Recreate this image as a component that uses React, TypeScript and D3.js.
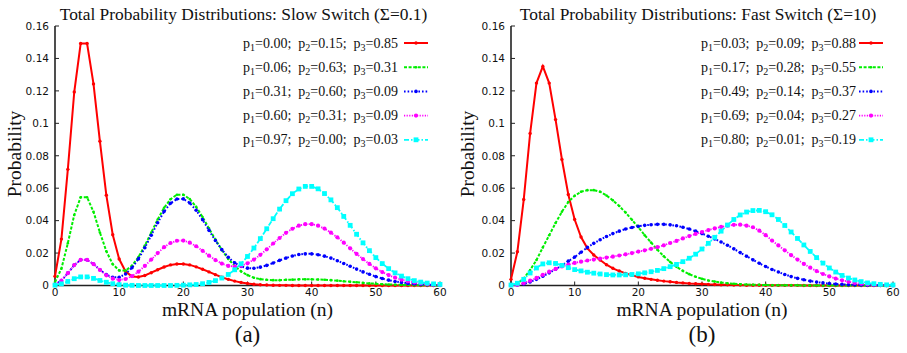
import React from "react";
import * as d3 from "d3";

const nValues: number[] = d3.range(0, 61);
const yTicks = [0, 0.02, 0.04, 0.06, 0.08, 0.1, 0.12, 0.14, 0.16];
const xTicks = [0, 10, 20, 30, 40, 50, 60];

const slowRed = [0.0057,0.0286,0.0716,0.1193,0.1492,0.1492,0.1243,0.0889,0.0557,0.0313,0.0163,0.0086,0.0056,0.0052,0.0062,0.0079,0.0097,0.0114,0.0127,0.0133,0.0133,0.0127,0.0115,0.0100,0.0084,0.0067,0.0051,0.0038,0.0027,0.0019,0.0013,0.0008,0.0005,0.0003,0.0002,0.0001,0.0001,0,0,0,0,0,0,0,0,0,0,0,0,0,0,0,0,0,0,0,0,0,0,0,0];
const slowGreen = [0.0021,0.0104,0.0261,0.0435,0.0544,0.0544,0.0454,0.0327,0.0211,0.0131,0.0093,0.0092,0.0122,0.0175,0.0246,0.0326,0.0407,0.0479,0.0532,0.0560,0.0560,0.0533,0.0485,0.0422,0.0352,0.0283,0.0219,0.0164,0.0120,0.0087,0.0064,0.0048,0.0039,0.0035,0.0033,0.0033,0.0035,0.0036,0.0038,0.0038,0.0038,0.0037,0.0035,0.0033,0.0030,0.0026,0.0023,0.0020,0.0016,0.0013,0.0011,0.0008,0.0006,0.0005,0.0004,0.0003,0.0002,0.0001,0.0001,0.0001,0.0000];
const slowBlue = [0.0006,0.0030,0.0076,0.0126,0.0158,0.0158,0.0133,0.0097,0.0067,0.0050,0.0051,0.0071,0.0109,0.0164,0.0233,0.0310,0.0387,0.0456,0.0507,0.0533,0.0534,0.0509,0.0464,0.0405,0.0340,0.0277,0.0221,0.0174,0.0140,0.0118,0.0107,0.0106,0.0113,0.0124,0.0139,0.0155,0.0169,0.0182,0.0191,0.0195,0.0195,0.0190,0.0181,0.0169,0.0153,0.0136,0.0119,0.0101,0.0084,0.0069,0.0055,0.0043,0.0033,0.0025,0.0019,0.0013,0.0010,0.0007,0.0005,0.0003,0.0002];
const slowMagenta = [0.0006,0.0030,0.0076,0.0126,0.0158,0.0158,0.0132,0.0096,0.0063,0.0042,0.0034,0.0040,0.0058,0.0085,0.0121,0.0160,0.0200,0.0236,0.0262,0.0276,0.0277,0.0264,0.0242,0.0214,0.0184,0.0157,0.0135,0.0121,0.0117,0.0122,0.0137,0.0160,0.0189,0.0223,0.0259,0.0293,0.0325,0.0350,0.0369,0.0378,0.0378,0.0369,0.0351,0.0326,0.0297,0.0264,0.0229,0.0195,0.0163,0.0133,0.0106,0.0083,0.0064,0.0048,0.0036,0.0026,0.0019,0.0013,0.0009,0.0006,0.0004];
const slowCyan = [0.0002,0.0010,0.0025,0.0042,0.0053,0.0053,0.0044,0.0031,0.0020,0.0011,0.0005,0.0002,0.0001,0,0,0,0,0,0,0.0001,0.0002,0.0004,0.0006,0.0011,0.0019,0.0030,0.0046,0.0068,0.0097,0.0134,0.0179,0.0231,0.0289,0.0350,0.0412,0.0471,0.0523,0.0566,0.0595,0.0611,0.0611,0.0596,0.0567,0.0528,0.0480,0.0426,0.0371,0.0316,0.0263,0.0215,0.0172,0.0135,0.0104,0.0078,0.0058,0.0042,0.0030,0.0021,0.0015,0.0010,0.0007];

const fastRed = [0.0038,0.0208,0.0530,0.0937,0.1248,0.1351,0.1248,0.1023,0.0777,0.0561,0.0407,0.0299,0.0229,0.0188,0.0157,0.0128,0.0106,0.0089,0.0075,0.0063,0.0053,0.0045,0.0038,0.0032,0.0027,0.0023,0.0019,0.0016,0.0013,0.0011,0.0009,0.0007,0.0006,0.0005,0.0004,0.0003,0.0003,0.0002,0.0002,0.0002,0.0002,0.0001,0.0001,0.0001,0.0001,0.0001,0,0,0,0,0,0,0,0,0,0,0,0,0,0,0];
const fastGreen = [0.0001,0.0012,0.0044,0.0095,0.0157,0.0235,0.0310,0.0385,0.0455,0.0515,0.0553,0.0578,0.0588,0.0588,0.0578,0.0555,0.0525,0.0490,0.0450,0.0405,0.0360,0.0310,0.0265,0.0220,0.0180,0.0145,0.0115,0.0090,0.0070,0.0054,0.0041,0.0031,0.0024,0.0018,0.0014,0.0011,0.0008,0.0006,0.0005,0.0004,0.0003,0.0002,0.0002,0.0001,0.0001,0.0001,0,0,0,0,0,0,0,0,0,0,0,0,0,0,0];
const fastBlue = [0,0.0003,0.0010,0.0022,0.0038,0.0057,0.0078,0.0100,0.0125,0.0150,0.0175,0.0205,0.0235,0.0260,0.0282,0.0302,0.0320,0.0335,0.0348,0.0358,0.0365,0.0371,0.0375,0.0377,0.0377,0.0374,0.0368,0.0359,0.0348,0.0335,0.0320,0.0304,0.0287,0.0268,0.0248,0.0226,0.0203,0.0180,0.0158,0.0137,0.0117,0.0099,0.0083,0.0068,0.0055,0.0044,0.0035,0.0027,0.0021,0.0016,0.0012,0.0009,0.0007,0.0005,0.0004,0.0003,0.0002,0.0002,0.0001,0.0001,0.0001];
const fastMagenta = [0,0.0005,0.0015,0.0030,0.0047,0.0066,0.0085,0.0102,0.0117,0.0129,0.0139,0.0147,0.0154,0.0160,0.0166,0.0172,0.0178,0.0185,0.0192,0.0200,0.0209,0.0217,0.0226,0.0236,0.0248,0.0262,0.0275,0.0290,0.0305,0.0318,0.0330,0.0342,0.0352,0.0361,0.0369,0.0374,0.0375,0.0369,0.0359,0.0338,0.0310,0.0277,0.0247,0.0217,0.0187,0.0160,0.0133,0.0110,0.0089,0.0071,0.0056,0.0043,0.0032,0.0023,0.0016,0.0011,0.0007,0.0005,0.0003,0.0002,0.0001];
const fastCyan = [0.0003,0.0014,0.0038,0.0077,0.0108,0.0133,0.0140,0.0136,0.0124,0.0110,0.0098,0.0090,0.0082,0.0076,0.0071,0.0067,0.0065,0.0065,0.0066,0.0068,0.0072,0.0078,0.0085,0.0093,0.0104,0.0116,0.0130,0.0147,0.0168,0.0193,0.0225,0.0260,0.0297,0.0335,0.0373,0.0407,0.0435,0.0453,0.0462,0.0463,0.0455,0.0436,0.0407,0.0370,0.0330,0.0290,0.0250,0.0210,0.0172,0.0138,0.0108,0.0083,0.0062,0.0046,0.0034,0.0024,0.0016,0.0011,0.0007,0.0004,0.0003];

const slowLegend = [
  ["0.00", "0.15", "0.85"],
  ["0.06", "0.63", "0.31"],
  ["0.31", "0.60", "0.09"],
  ["0.60", "0.31", "0.09"],
  ["0.97", "0.00", "0.03"],
];
const fastLegend = [
  ["0.03", "0.09", "0.88"],
  ["0.17", "0.28", "0.55"],
  ["0.49", "0.14", "0.37"],
  ["0.69", "0.04", "0.27"],
  ["0.80", "0.01", "0.19"],
];

type Style = { color: string; dash: string; width: number; marker: "circle" | "square"; size: number };
const styles: Style[] = [
  { color: "#ff0000", dash: "none", width: 2, marker: "circle", size: 1.7 },
  { color: "#00ee00", dash: "3,1.6", width: 2, marker: "circle", size: 1.3 },
  { color: "#0000ff", dash: "1.6,2", width: 2, marker: "circle", size: 1.8 },
  { color: "#ff00ff", dash: "1.2,1.4", width: 1.8, marker: "circle", size: 2.1 },
  { color: "#00ffff", dash: "5,2,1.5,2", width: 1.8, marker: "square", size: 2.4 },
];

const SERIF = "'Liberation Serif', 'Times New Roman', serif";
const SANS = "'DejaVu Sans', sans-serif";

type PanelProps = {
  series: number[][];
  legend: string[][];
  title: string;
  sub: string;
  x0: number;
  x1: number;
  ylabX: number;
  legendTextEnd: number;
  legendLineX0: number;
  legendLineX1: number;
};

function Marker({ s, x, y }: { s: Style; x: number; y: number }) {
  if (s.marker === "square")
    return <rect x={x - s.size} y={y - s.size} width={s.size * 2} height={s.size * 2} fill={s.color} />;
  return <circle cx={x} cy={y} r={s.size} fill={s.color} />;
}

function Panel(p: PanelProps) {
  const yTop = 26, yBot = 285.5;
  const x = d3.scaleLinear().domain([0, 60]).range([p.x0, p.x1]);
  const y = d3.scaleLinear().domain([0, 0.16]).range([yBot, yTop]);
  const line = d3.line<number>().x((_, i) => x(nValues[i])).y((v) => y(v));
  const cx = (p.x0 + p.x1) / 2;
  return (
    <g>
      <text x={cx - 4} y={20} textAnchor="middle" fontFamily={SERIF} fontSize={17.4} fill="#111">{p.title}</text>
      <line x1={p.x0} x2={p.x0} y1={yTop} y2={yBot} stroke="#222" strokeWidth={1.6} />
      <line x1={p.x0} x2={p.x1} y1={yBot} y2={yBot} stroke="#222" strokeWidth={1.6} />
      {yTicks.map((t) => (
        <g key={"y" + t}>
          <line x1={p.x0} x2={p.x0 + 4} y1={y(t)} y2={y(t)} stroke="#222" strokeWidth={1} />
          <text x={p.x0 - 6} y={y(t) + 3.8} textAnchor="end" fontFamily={SANS} fontSize={10.5} fill="#111">{d3.format("~g")(t)}</text>
        </g>
      ))}
      {xTicks.map((t) => (
        <g key={"x" + t}>
          <line x1={x(t)} x2={x(t)} y1={yBot} y2={yBot - 4} stroke="#222" strokeWidth={1} />
          <text x={x(t)} y={296} textAnchor="middle" fontFamily={SANS} fontSize={10.5} fill="#111">{t}</text>
        </g>
      ))}
      <text x={cx} y={315.5} textAnchor="middle" fontFamily={SERIF} fontSize={19.5} fill="#111">mRNA population (n)</text>
      <text x={cx} y={342} textAnchor="middle" fontFamily={SERIF} fontSize={23} fill="#111">{p.sub}</text>
      <text transform={`translate(${p.ylabX},154) rotate(-90)`} textAnchor="middle" fontFamily={SERIF} fontSize={19.5} fill="#111">Probability</text>
      {p.series.map((vals, si) => {
        const s = styles[si];
        return (
          <g key={"s" + si}>
            <path d={line(vals) || ""} fill="none" stroke={s.color} strokeWidth={s.width} strokeDasharray={s.dash} />
            {vals.map((v, i) => <Marker key={i} s={s} x={x(nValues[i])} y={y(v)} />)}
          </g>
        );
      })}
      {p.legend.map((lab, li) => {
        const s = styles[li];
        const ly = 43 + li * 24.2;
        const mid = (p.legendLineX0 + p.legendLineX1) / 2;
        return (
          <g key={"l" + li}>
            <text x={p.legendTextEnd} y={ly + 4.5} textAnchor="end" fontFamily={SERIF} fontSize={14} fill="#111">
              {lab.map((v, k) => (
                <React.Fragment key={k}>
                  <tspan dx={k === 0 ? 0 : 7}>p</tspan>
                  <tspan fontSize={10} dy={3}>{k + 1}</tspan>
                  <tspan dy={-3}>{"=" + v + (k < 2 ? ";" : "")}</tspan>
                </React.Fragment>
              ))}
            </text>
            <line x1={p.legendLineX0} x2={p.legendLineX1} y1={ly} y2={ly} stroke={s.color} strokeWidth={s.width} strokeDasharray={s.dash} />
            <Marker s={s} x={mid} y={ly} />
          </g>
        );
      })}
    </g>
  );
}

export default function App() {
  return (
    <svg width={907} height={353} style={{ position: "absolute", left: 0, top: 0, background: "#fff" }}>
      <rect width={907} height={353} fill="#fff" />
      <Panel
        series={[slowRed, slowGreen, slowBlue, slowMagenta, slowCyan]}
        legend={slowLegend}
        title="Total Probability Distributions: Slow Switch (Σ=0.1)"
        sub="(a)"
        x0={55}
        x1={440}
        ylabX={21}
        legendTextEnd={398}
        legendLineX0={404}
        legendLineX1={428}
      />
      <Panel
        series={[fastRed, fastGreen, fastBlue, fastMagenta, fastCyan]}
        legend={fastLegend}
        title="Total Probability Distributions: Fast Switch (Σ=10)"
        sub="(b)"
        x0={511}
        x1={893}
        ylabX={474}
        legendTextEnd={856}
        legendLineX0={859}
        legendLineX1={883}
      />
    </svg>
  );
}
